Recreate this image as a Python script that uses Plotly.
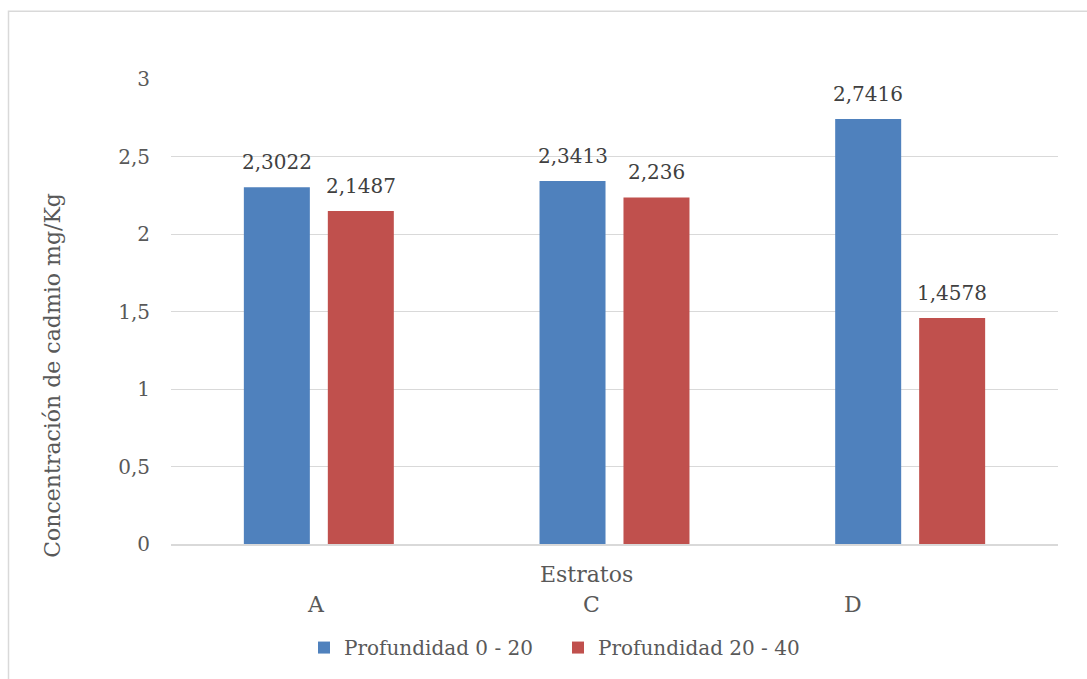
import plotly.graph_objects as go

# Cadmium concentration by stratum and sampling depth
estratos = ["A", "C", "D"]
prof_0_20 = [2.3022, 2.3413, 2.7416]
prof_20_40 = [2.1487, 2.236, 1.4578]
series_names = ["Profundidad 0 - 20", "Profundidad 20 - 40"]
y_ticks = [0, 0.5, 1, 1.5, 2, 2.5, 3]

W, H = 1087, 679
L, R, T, B = 171, 29, 79, 133
plot_w = W - L - R
plot_h = H - T - B

FONT = "DejaVu Serif"
TXT = "#595959"
LABEL = "#404040"
BLUE = "#4F81BD"
RED = "#C0504D"
GRID = "#D9D9D9"

BAR_OFFSET = 42  # half of one bar slot within a group, in px


def px_x(px):
    return (px - L) / plot_w


def px_y(py):
    return (H - B - py) / plot_h


def fmt(v):
    return str(v).replace(".", ",")


fig = go.Figure()
series = [(series_names[0], prof_0_20, BLUE, -BAR_OFFSET),
          (series_names[1], prof_20_40, RED, BAR_OFFSET)]
annotations = []
for name, vals, col, shift in series:
    fig.add_trace(go.Bar(
        x=estratos, y=vals, name=name,
        marker=dict(color=col, line=dict(width=0)),
    ))
    # value labels above each bar
    for i, v in enumerate(vals):
        annotations.append(dict(
            text=fmt(v), x=i, y=v, xref="x", yref="y",
            xshift=shift, yshift=11, showarrow=False,
            xanchor="center", yanchor="bottom",
            font=dict(family=FONT, size=20, color=LABEL)))

# category labels sit below the axis title
for lab, px in zip(estratos, [316, 591, 853]):
    annotations.append(dict(
        text=lab, x=px_x(px), y=px_y(607), xref="paper", yref="paper",
        showarrow=False, xanchor="center", yanchor="middle",
        font=dict(family=FONT, size=22, color=TXT)))
annotations.append(dict(
    text="Estratos", x=px_x(586), y=px_y(577), xref="paper", yref="paper",
    showarrow=False, xanchor="center", yanchor="middle",
    font=dict(family=FONT, size=22, color=TXT)))
annotations.append(dict(
    text="Concentración de cadmio mg/Kg", x=px_x(53), y=px_y(377),
    xref="paper", yref="paper", showarrow=False, textangle=-90,
    xanchor="center", yanchor="middle",
    font=dict(family=FONT, size=22, color=TXT)))

fig.update_layout(
    width=W, height=H,
    margin=dict(l=L, r=R, t=T, b=B),
    paper_bgcolor="white", plot_bgcolor="white",
    separators=", ",
    barmode="group", bargap=0.432, bargroupgap=0.214,
    font=dict(family=FONT, size=20, color=TXT),
    showlegend=True,
    legend=dict(orientation="h", x=px_x(304), xanchor="left",
                y=px_y(650), yanchor="middle",
                font=dict(family=FONT, size=20, color=TXT),
                itemwidth=30, entrywidth=209, traceorder="normal"),
    annotations=annotations,
    shapes=[dict(type="rect", xref="paper", yref="paper",
                 x0=px_x(8.5), x1=px_x(1095), y0=px_y(690), y1=px_y(11),
                 line=dict(color=GRID, width=1.5), layer="below")],
)
fig.update_xaxes(showticklabels=False, showgrid=False, ticks="",
                 showline=True, linecolor=GRID, linewidth=1.5)
fig.update_yaxes(range=[0, 3], tickvals=y_ticks, showgrid=True,
                 gridcolor=GRID, gridwidth=1.3, zeroline=False,
                 showline=False, ticks="", ticklabelstandoff=20,
                 tickfont=dict(family=FONT, size=20, color=TXT))

fig.write_html("out.html")
